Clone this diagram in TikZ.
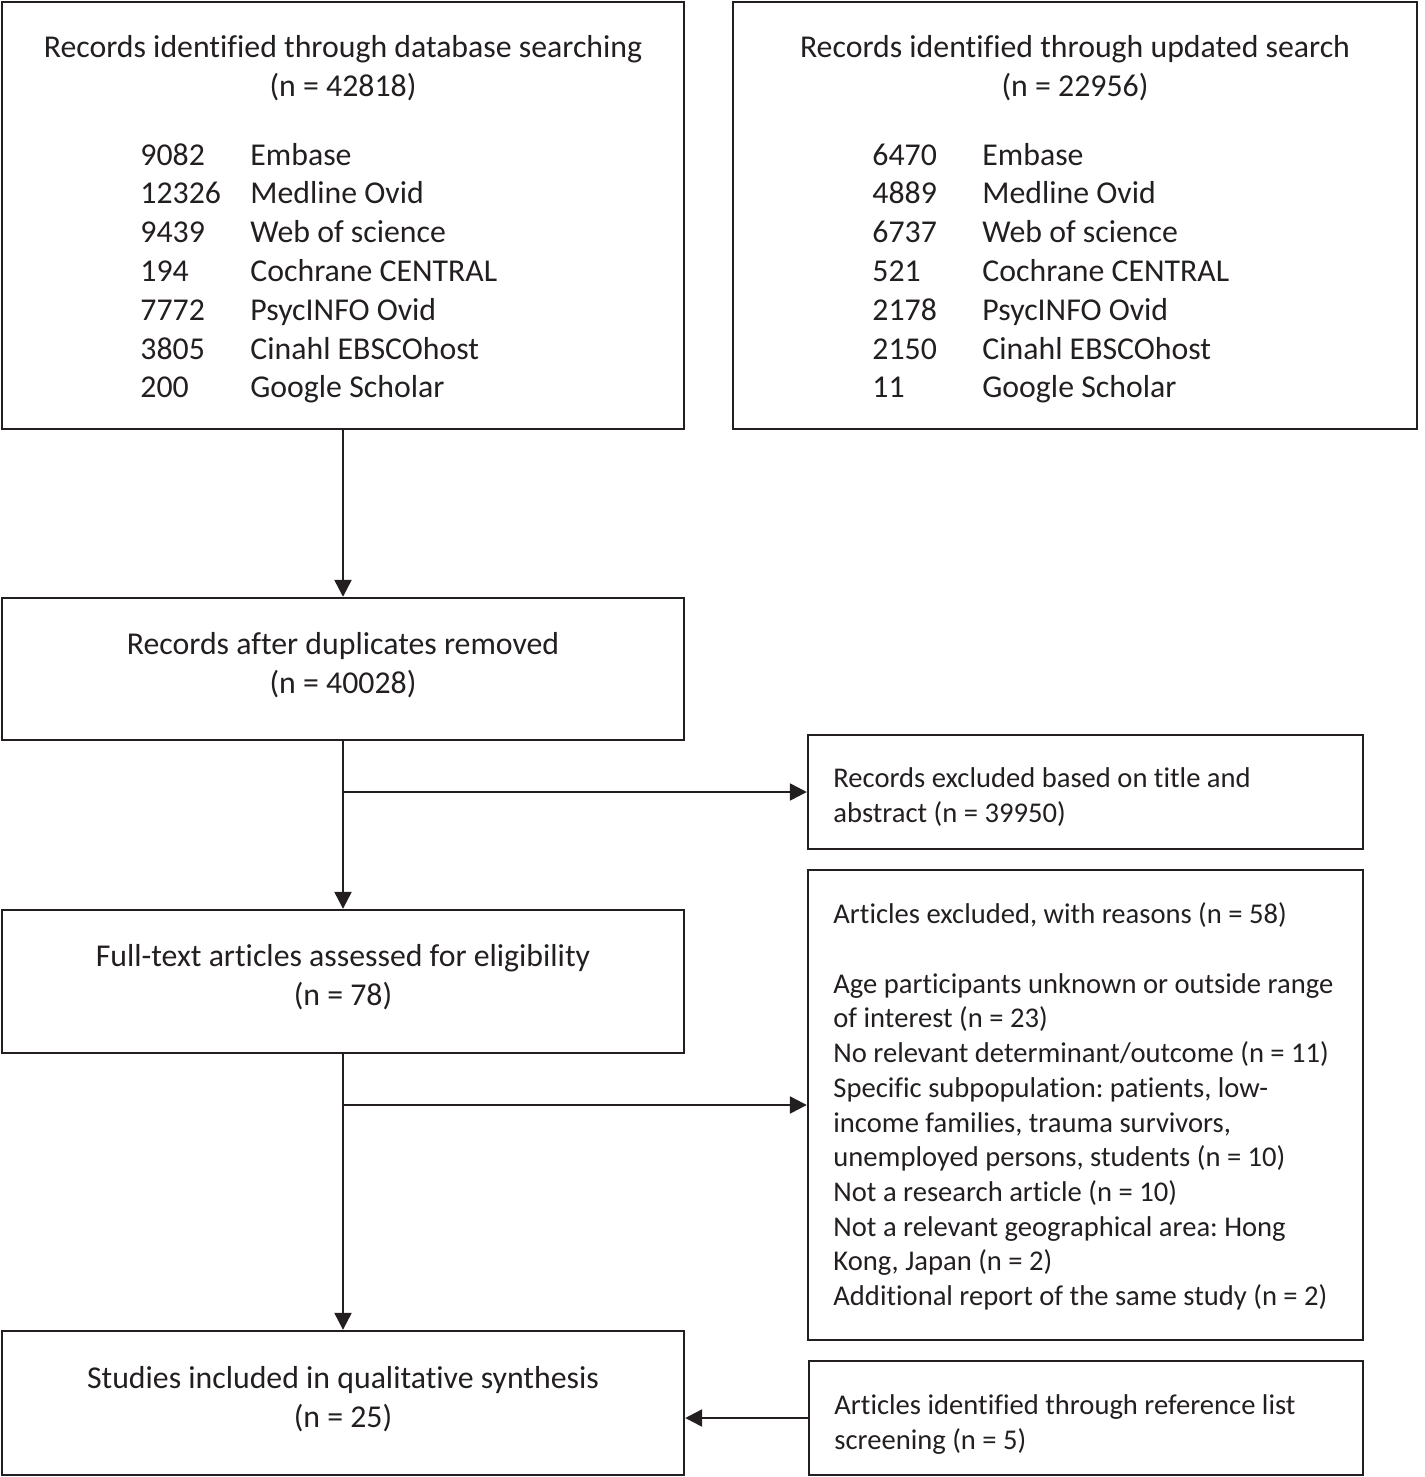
\documentclass[tikz,border=0pt]{standalone}
\usepackage{fontspec}
\setmainfont{Carlito}[Ligatures=NoCommon]
\usetikzlibrary{arrows.meta}
\definecolor{ink}{RGB}{35,31,32}
\frenchspacing
\begin{document}
\begin{tikzpicture}[x=0.5pt,y=-0.5pt,
  box/.style={draw=ink,line width=1.2pt,inner sep=0pt},
  maintext/.style={text=ink,inner sep=0pt,font=\fontsize{15.9}{19.4}\selectfont\frenchspacing,align=center},
  sidetext/.style={text=ink,inner sep=0pt,anchor=west,font=\fontsize{14.3}{17.35}\selectfont\frenchspacing,align=left},
  arr/.style={draw=ink,line width=1.2pt,-{Triangle[length=8.5pt,width=8.5pt]}}]
\useasboundingbox (0,0) rectangle (1424,1477);
% boxes
\node[box,minimum width=341pt,minimum height=213.5pt] (A) at (343,215.5) {};
\node[box,minimum width=342pt,minimum height=213.5pt] (B) at (1075,215.5) {};
\node[box,minimum width=341pt,minimum height=71pt] (C) at (343,669) {};
\node[box,minimum width=341pt,minimum height=71.5pt] (E) at (343,981.5) {};
\node[box,minimum width=341pt,minimum height=72pt] (G) at (343,1403) {};
\node[box,minimum width=277.5pt,minimum height=57pt] (D) at (1085.5,792) {};
\node[box,minimum width=277.5pt,minimum height=235pt] (F) at (1085.5,1105) {};
\node[box,minimum width=277pt,minimum height=57pt] (H) at (1086,1418) {};
% texts
\node[maintext] (At) at (343,68) {Records identified through database searching\\(n = 42818)};
\node[maintext] (Bt) at (1075,68) {Records identified through updated search\\(n = 22956)};
\node[anchor=base west,inner sep=0pt,text=ink,font=\fontsize{15.9}{19.4}\selectfont] (Al) at (140,165)
 {\begin{tabular}[t]{@{}p{55pt}@{}l@{}}
 9082 & Embase\\ 12326 & Medline Ovid\\ 9439 & Web of science\\ 194 & Cochrane CENTRAL\\
 7772 & PsycINFO Ovid\\ 3805 & Cinahl EBSCOhost\\ 200 & Google Scholar
 \end{tabular}};
\node[anchor=base west,inner sep=0pt,text=ink,font=\fontsize{15.9}{19.4}\selectfont] (Bl) at (872,165)
 {\begin{tabular}[t]{@{}p{55pt}@{}l@{}}
 6470 & Embase\\ 4889 & Medline Ovid\\ 6737 & Web of science\\ 521 & Cochrane CENTRAL\\
 2178 & PsycINFO Ovid\\ 2150 & Cinahl EBSCOhost\\ 11 & Google Scholar
 \end{tabular}};
\node[maintext] (Ct) at (343,665.5) {Records after duplicates removed\\(n = 40028)};
\node[maintext] (Et) at (343,977.5) {Full-text articles assessed for eligibility\\(n = 78)};
\node[maintext] (Gt) at (343,1399.5) {Studies included in qualitative synthesis\\(n = 25)};
\node[sidetext] (Dt) at (833,797) {Records excluded based on title and\\abstract (n = 39950)};
\node[sidetext] (Ft) at (833,1106.5) {Articles excluded, with reasons (n = 58)\\[17.35pt]
Age participants unknown or outside range\\of interest (n = 23)\\No relevant determinant/outcome (n = 11)\\
Specific subpopulation: patients, low-\\income families, trauma survivors,\\unemployed persons, students (n = 10)\\
Not a research article (n = 10)\\Not a relevant geographical area: Hong\\Kong, Japan (n = 2)\\Additional report of the same study (n = 2)};
\node[sidetext] (Ht) at (834,1424.5) {Articles identified through reference list\\screening (n = 5)};
% connectors
\draw[arr] (A) -- (C);
\draw[arr] (C) -- (E);
\draw[arr] (E) -- (G);
\draw[arr] (C.south |- D.west) -- (D.west);
\draw[arr] (E.south |- F.west) -- (F.west);
\draw[arr] (H.west) -- (H.west -| G.east);
\end{tikzpicture}
\end{document}
